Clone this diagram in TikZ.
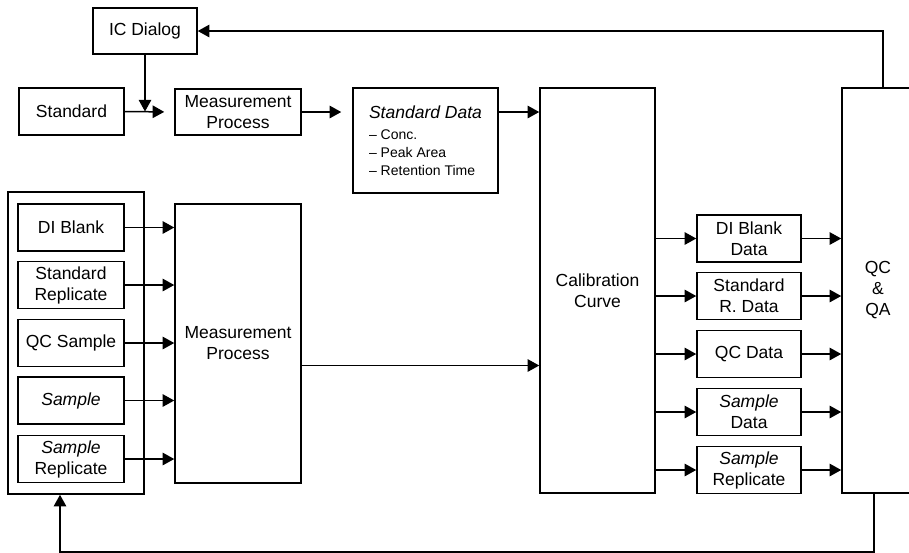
\documentclass[tikz,border=0pt]{standalone}
\usepackage{fontspec}
\setmainfont{Liberation Sans}
\usetikzlibrary{arrows.meta}

\begin{document}
\begin{tikzpicture}[
    x=0.6pt, y=-0.6pt,
    box/.style={draw, line width=0.9pt, inner sep=0pt, align=center,
                font=\fontsize{10.5}{12.6}\selectfont},
    inbox/.style={box, minimum width=63.6pt, minimum height=28.2pt},
    outbox/.style={box, minimum width=62.4pt, minimum height=28.2pt},
    arrow/.style={-{Triangle[length=7pt, width=7.5pt]}, line width=0.9pt}
]
\useasboundingbox (0,0) rectangle (909,552);
\clip (0,0) rectangle (909,552);

% Standard path
\node[box, minimum width=62.4pt, minimum height=27.6pt] (icd) at (145,31) {IC Dialog};
\node[box, minimum width=63pt, minimum height=28.2pt] (std) at (71.5,111.5) {Standard};
\node[box, minimum width=75.6pt, minimum height=27.6pt] (mpa) at (238,112) {Measurement\\Process};
\node[box, minimum width=87pt, minimum height=63pt, align=left,
      font=\fontsize{8.4}{10.8}\selectfont] (sd) at (425.5,140.5)
     {{\fontsize{10.5}{12.6}\selectfont\itshape Standard Data}\\[1.8pt]
      \textendash{} Conc.\\
      \textendash{} Peak Area\\
      \textendash{} Retention Time};

% Sample group
\node[draw, line width=0.9pt, minimum width=81.6pt, minimum height=181.2pt] (grp) at (76,343) {};
\node[inbox] (dib) at (71,227.5) {DI Blank};
\node[inbox] (srp) at (71,285) {Standard\\Replicate};
\node[inbox] (qcs) at (71,343) {QC Sample};
\node[inbox] (smp) at (71,400.5) {\itshape Sample};
\node[inbox] (smr) at (71,459) {{\itshape Sample}\\Replicate};
\node[box, minimum width=75.6pt, minimum height=167.4pt] (mpb) at (238,343.5) {Measurement\\Process};

% Calibration and QC/QA
\node[box, minimum width=69pt, minimum height=243pt] (cc) at (597.5,290.5) {Calibration\\Curve};
\node[box, minimum width=43.2pt, minimum height=243pt] (qa) at (878,290.5) {QC\\\&\\QA};

% Data boxes
\node[outbox] (dbd) at (749,238.5) {DI Blank\\Data};
\node[outbox] (srd) at (749,296) {Standard\\R. Data};
\node[outbox] (qcd) at (749,354) {QC Data};
\node[outbox] (spd) at (749,412) {{\itshape Sample}\\Data};
\node[outbox] (spr) at (749,470) {{\itshape Sample}\\Replicate};

% Arrows, top row
\draw[arrow] (icd.south) -- (icd.south |- std.east);
\draw[arrow, shorten >=6pt] (std.east) -- (mpa.west);
\draw[arrow, shorten >=6.6pt] (mpa.east) -- (sd.west |- mpa.east);
\draw[arrow] (sd.east |- mpa.east) -- (cc.west |- mpa.east);

% Arrows into measurement
\draw[arrow] (dib.east) -- (dib.east -| mpb.west);
\draw[arrow] (srp.east) -- (srp.east -| mpb.west);
\draw[arrow] (qcs.east) -- (qcs.east -| mpb.west);
\draw[arrow] (smp.east) -- (smp.east -| mpb.west);
\draw[arrow] (smr.east) -- (smr.east -| mpb.west);
\draw[arrow] ([yshift=-13.2pt]mpb.east) -- ([yshift=-13.2pt]mpb.east -| cc.west);

% Arrows through the data boxes
\draw[arrow] (cc.east |- dbd.west) -- (dbd.west);
\draw[arrow] (cc.east |- srd.west) -- (srd.west);
\draw[arrow] (cc.east |- qcd.west) -- (qcd.west);
\draw[arrow] (cc.east |- spd.west) -- (spd.west);
\draw[arrow] (cc.east |- spr.west) -- (spr.west);
\draw[arrow] (dbd.east) -- (dbd.east -| qa.west);
\draw[arrow] (srd.east) -- (srd.east -| qa.west);
\draw[arrow] (qcd.east) -- (qcd.east -| qa.west);
\draw[arrow] (spd.east) -- (spd.east -| qa.west);
\draw[arrow] (spr.east) -- (spr.east -| qa.west);

% Feedback loops
\draw[arrow] ([xshift=3pt]qa.north) |- (icd.east);
\draw[arrow] ([xshift=-2.4pt]qa.south) -- ++(0,58) -| ([xshift=-9.6pt]grp.south);
\end{tikzpicture}
\end{document}
